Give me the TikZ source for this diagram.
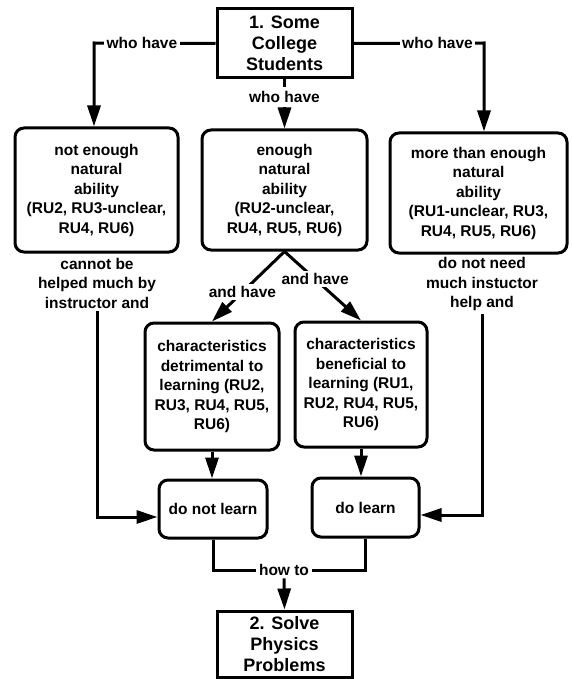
\documentclass[tikz,border=0pt]{standalone}
\usepackage{fontspec}
\setmainfont{Liberation Sans}
\usetikzlibrary{arrows.meta,calc}
\begin{document}
\begin{tikzpicture}[x=1pt,y=-1pt,
  sq/.style={draw, line width=3pt, inner sep=0pt, align=center, font=\bfseries\fontsize{18}{21}\selectfont},
  rbox/.style={draw, line width=3pt, rounded corners=9pt, inner sep=0pt, align=center, font=\bfseries\fontsize{15.5}{19.5}\selectfont},
  txt/.style={align=center, inner sep=3pt, font=\bfseries\fontsize{15.5}{19.5}\selectfont},
  lbl/.style={fill=white, inner sep=2.5pt, font=\bfseries\fontsize{15.5}{19.5}\selectfont},
  conn/.style={line width=3pt},
  arr/.style={conn, -{Triangle[length=21pt,width=13pt]}}
]
\useasboundingbox (0,0) rectangle (572,679);

% boxes
\node[sq, minimum width=135pt, minimum height=69pt] (T) at (284.5,43.5) {1. Some\\College\\Students};
\node[rbox, minimum width=163pt, minimum height=124pt] (L) at (96.5,190) {not enough\\natural\\ability\\(RU2, RU3-unclear,\\RU4, RU6)};
\node[rbox, minimum width=165pt, minimum height=120pt] (M) at (284.5,190) {enough\\natural\\ability\\(RU2-unclear,\\RU4, RU5, RU6)};
\node[rbox, minimum width=177pt, minimum height=120pt] (R) at (478.5,193) {more than enough\\natural\\ability\\(RU1-unclear, RU3,\\RU4, RU5, RU6)};
\node[rbox, minimum width=134pt, minimum height=127pt] (D) at (212,386.5) {characteristics\\detrimental to\\learning (RU2,\\RU3, RU4, RU5,\\RU6)};
\node[rbox, minimum width=132pt, minimum height=125pt] (B) at (361,384.5) {characteristics\\beneficial to\\learning (RU1,\\RU2, RU4, RU5,\\RU6)};
\node[rbox, minimum width=108pt, minimum height=58pt] (DN) at (213,509) {do not learn};
\node[rbox, minimum width=107pt, minimum height=59pt] (DL) at (365.5,507.5) {do learn};
\node[sq, minimum width=135pt, minimum height=66pt] (S) at (284.5,644) {2. Solve\\Physics\\Problems};

% free texts
\node[txt] (lt) at (97,283) {cannot be\\helped much by\\instructor and};
\node[txt] (rt) at (482,284) {do not need\\much instuctor\\help and};
\node[lbl, fill=none, inner sep=4pt] (wh2) at (284.5,97) {who have};
\node[lbl] (how) at (284,570) {how to};

% connectors
\coordinate (c1) at (94,43);
\coordinate (c2) at (484,43);
\draw[arr] (T.west) -- node[lbl, pos=0.606]{who have} (c1) -- (c1 |- L.north);
\draw[arr] (T.east) -- node[lbl, pos=0.644]{who have} (c2) -- (c2 |- R.north);
\draw[conn] (T.south) -- (wh2.north);
\draw[arr] (wh2.south) -- (M.north);

\draw[arr] (M.south) -- node[lbl, pos=0.58]{and have} (D.north);
\draw[arr] (M.south) -- node[lbl, pos=0.40]{and have} (B.north);

\draw[arr] (lt.south) |- ($(DN.west)+(0,8)$);
\draw[arr] (rt.south) |- ($(DL.east)+(0,7.5)$);
\draw[arr] (D.south) -- (D.south |- DN.north);
\draw[arr] (B.south) -- (B.south |- DL.north);

\draw[conn] (DN.south) |- (how.west);
\draw[conn] (DL.south) |- (how.east);
\draw[arr] (how.south) -- (S.north);
\end{tikzpicture}
\end{document}
